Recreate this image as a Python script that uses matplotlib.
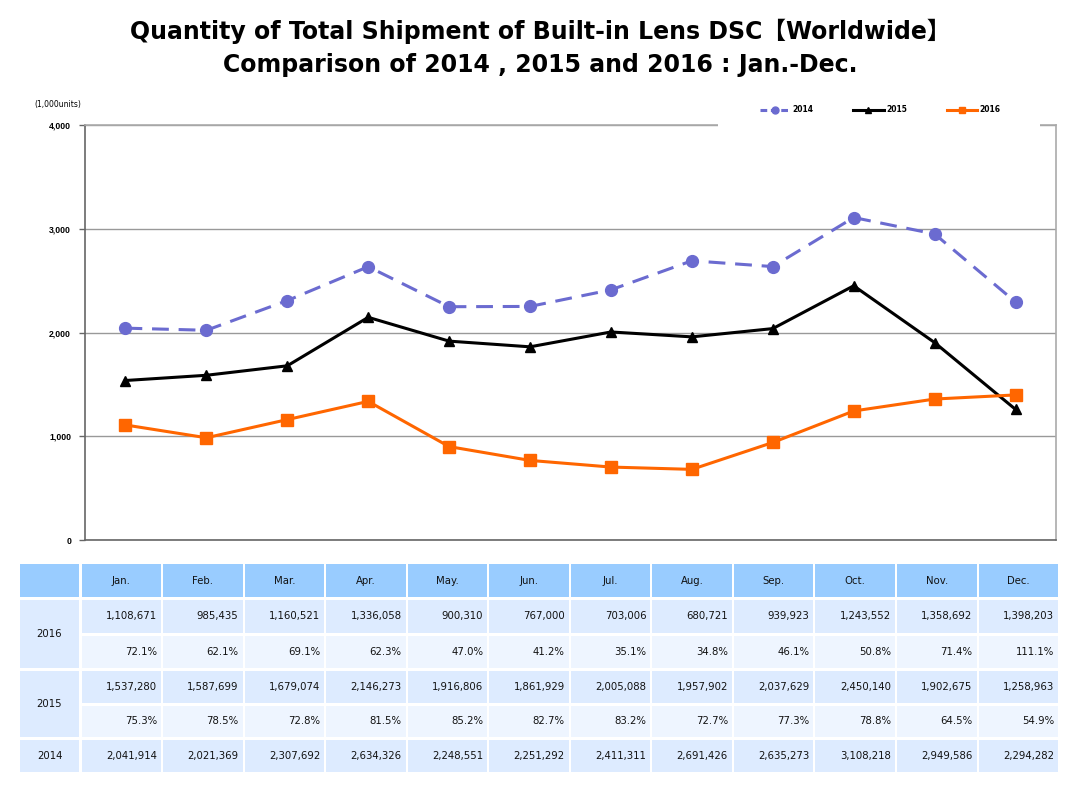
import matplotlib
matplotlib.use("Agg")
import matplotlib.pyplot as plt
from matplotlib.patches import Rectangle
from matplotlib.lines import Line2D
from matplotlib.ticker import FuncFormatter

months = ["Jan.", "Feb.", "Mar.", "Apr.", "May.", "Jun.", "Jul.", "Aug.", "Sep.", "Oct.", "Nov.", "Dec."]
v2014 = [2041914, 2021369, 2307692, 2634326, 2248551, 2251292, 2411311, 2691426, 2635273, 3108218, 2949586, 2294282]
v2015 = [1537280, 1587699, 1679074, 2146273, 1916806, 1861929, 2005088, 1957902, 2037629, 2450140, 1902675, 1258963]
v2016 = [1108671, 985435, 1160521, 1336058, 900310, 767000, 703006, 680721, 939923, 1243552, 1358692, 1398203]
pct2015 = ["75.3%", "78.5%", "72.8%", "81.5%", "85.2%", "82.7%", "83.2%", "72.7%", "77.3%", "78.8%", "64.5%", "54.9%"]
pct2016 = ["72.1%", "62.1%", "69.1%", "62.3%", "47.0%", "41.2%", "35.1%", "34.8%", "46.1%", "50.8%", "71.4%", "111.1%"]
yticks = [0, 1000, 2000, 3000, 4000]

W, H = 1080, 788
fig = plt.figure(figsize=(W / 100, H / 100), dpi=100)
fig.patch.set_facecolor("white")

def fx(px):
    return px / W

def fy(py):
    return 1 - py / H

# Title
title_font = ["DejaVu Sans", "Noto Sans CJK JP"]
fig.text(0.5, fy(31), "Quantity of Total Shipment of Built-in Lens DSC【Worldwide】",
         ha="center", va="center", fontsize=17, fontweight="bold", family=title_font)
fig.text(0.5, fy(65), "Comparison of 2014 , 2015 and 2016 : Jan.-Dec.",
         ha="center", va="center", fontsize=17, fontweight="bold", family=title_font)

# Main chart
ax = fig.add_axes([fx(85), fy(540), fx(1056) - fx(85), fy(125) - fy(540)])
x = list(range(len(months)))
c14, c15, c16 = "#6B6BD0", "#000000", "#FF6600"
ax.plot(x, [v / 1000 for v in v2014], color=c14, lw=2.2, dashes=(5.5, 3.2), marker="o", ms=8.5,
        label="2014", zorder=3)
ax.plot(x, [v / 1000 for v in v2015], color=c15, lw=2.2, marker="^", ms=7.5, label="2015", zorder=4)
ax.plot(x, [v / 1000 for v in v2016], color=c16, lw=2.2, marker="s", ms=8, label="2016", zorder=5)

ax.set_xlim(-0.5, 11.5)
ax.set_ylim(0, 4000)
ax.set_yticks(yticks)
ax.yaxis.set_major_formatter(FuncFormatter(lambda v, p: f"{int(v):,}"))
ax.set_xticks([])
ax.grid(axis="y", color="#999999", lw=1)
ax.set_axisbelow(True)
for s in ["left", "bottom"]:
    ax.spines[s].set_color("#666666")
    ax.spines[s].set_linewidth(1.2)
for s in ["right", "top"]:
    ax.spines[s].set_color("#aaaaaa")
    ax.spines[s].set_linewidth(1.2)
ax.tick_params(axis="y", length=4, width=1, color="#666666", labelsize=6.2, pad=6)
for lab in ax.get_yticklabels():
    lab.set_fontweight("bold")
    lab.set_family("Liberation Sans")

fig.text(fx(34), fy(105), "(1,000units)", fontsize=5.5, ha="left", va="center")

# white box interrupting the top frame where the legend sits
fig.patches.append(Rectangle((fx(718), fy(131)), fx(1040) - fx(718), fy(95) - fy(131),
                             transform=fig.transFigure, facecolor="white", edgecolor="none", zorder=5))

handles = [
    Line2D([], [], color=c14, lw=2.2, dashes=(2.2, 1.2), marker="o", ms=5),
    Line2D([], [], color=c15, lw=2.2, marker="^", ms=4.5),
    Line2D([], [], color=c16, lw=2.2, marker="s", ms=4.8),
]
leg = ax.legend(handles, ["2014", "2015", "2016"], loc="center", bbox_to_anchor=(fx(880), fy(110)),
                bbox_transform=fig.transFigure, ncol=3, fontsize=5.5, frameon=False,
                handlelength=4.0, columnspacing=5.2, handletextpad=0.3)
for t in leg.get_texts():
    t.set_fontweight("bold")
leg.remove()
fig.add_artist(leg)
leg.set_zorder(6)

# Table
tax = fig.add_axes([0, 0, 1, 1])
tax.set_xlim(0, W)
tax.set_ylim(H, 0)
tax.axis("off")

hdr_c = "#99CCFF"
val_c = "#DDEBFF"
pct_c = "#EEF5FF"
col0 = (20, 79)
mx0, mw, gap = 81.5, 81.55, 2.0
rows = [(564, 597), (600, 633), (636, 668), (671, 703), (706, 737), (740, 772)]

def cell(x0, x1, y0, y1, color):
    tax.add_patch(Rectangle((x0, y0), x1 - x0, y1 - y0, facecolor=color, edgecolor="none"))

tfs = 7.3
tcol = "#111111"
# header row
cell(col0[0], col0[1], rows[0][0], rows[0][1], hdr_c)
for i, m in enumerate(months):
    a = mx0 + i * mw
    b = a + mw - gap
    cell(a, b, rows[0][0], rows[0][1], hdr_c)
    tax.text((a + b) / 2, (rows[0][0] + rows[0][1]) / 2, m, ha="center", va="center",
             fontsize=tfs, color=tcol)

data_rows = [
    ([f"{v:,}" for v in v2016], val_c),
    (pct2016, pct_c),
    ([f"{v:,}" for v in v2015], val_c),
    (pct2015, pct_c),
    ([f"{v:,}" for v in v2014], val_c),
]
for r, (vals, color) in enumerate(data_rows):
    y0, y1 = rows[r + 1]
    for i, s in enumerate(vals):
        a = mx0 + i * mw
        b = a + mw - gap
        cell(a, b, y0, y1, color)
        tax.text(b - 4, (y0 + y1) / 2, s, ha="right", va="center", fontsize=tfs, color=tcol)

year_cells = [("2016", rows[1][0], rows[2][1]), ("2015", rows[3][0], rows[4][1]), ("2014", rows[5][0], rows[5][1])]
for lab, y0, y1 in year_cells:
    cell(col0[0], col0[1], y0, y1, val_c)
    tax.text((col0[0] + col0[1]) / 2, (y0 + y1) / 2, lab, ha="center", va="center",
             fontsize=tfs, color=tcol)

fig.savefig("out.png", dpi=100)
